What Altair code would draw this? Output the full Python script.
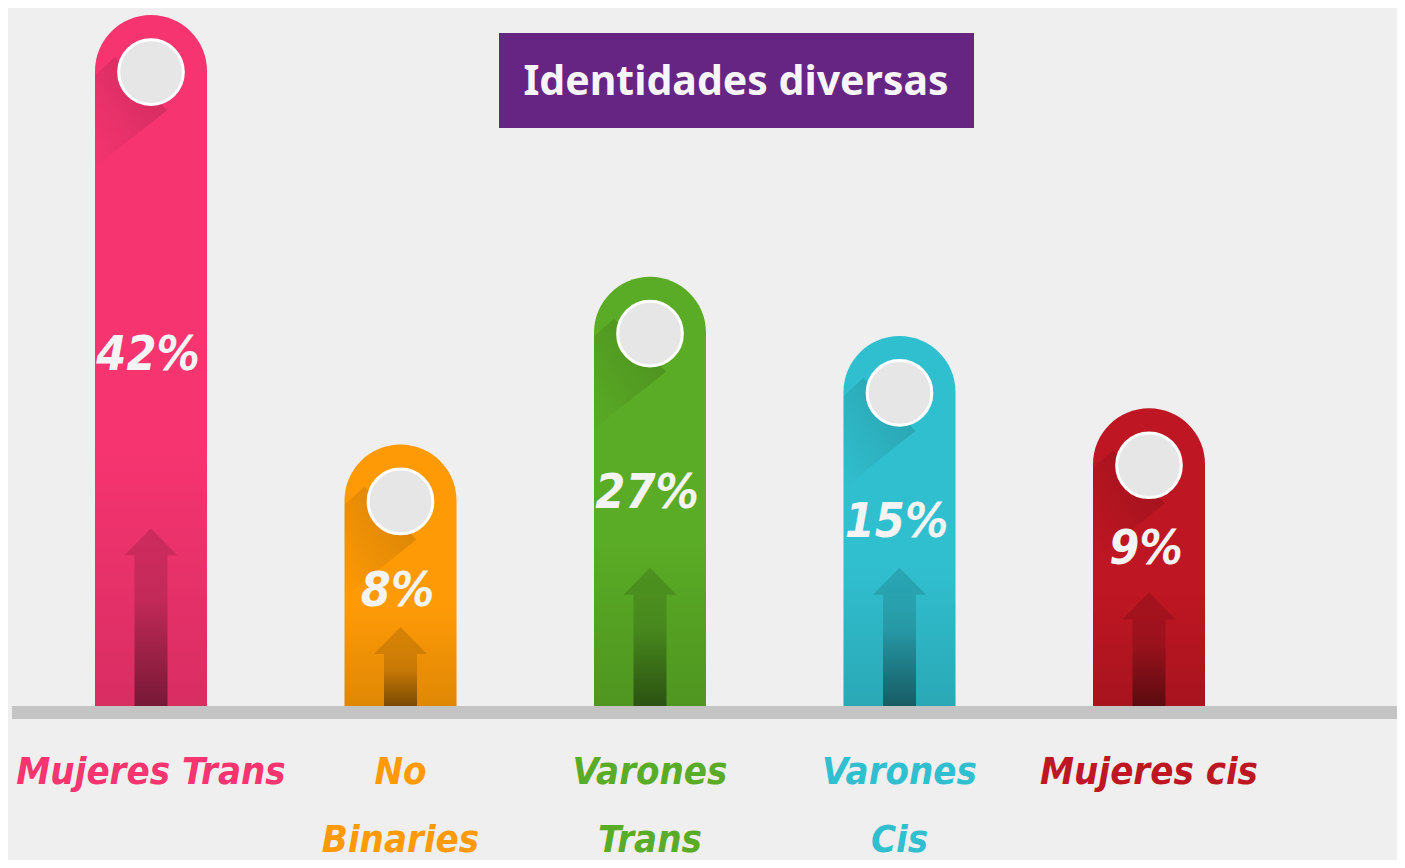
import altair as alt
import pandas as pd

# ---- data ----
categories = ["Mujeres Trans", "No Binaries", "Varones Trans", "Varones Cis", "Mujeres cis"]
display_names = ["Mujeres Trans", "No\nBinaries", "Varones\nTrans", "Varones\nCis", "Mujeres cis"]
percents = [42, 8, 27, 15, 9]
# visual bar heights / arrow tips / label positions (infographic is not to scale)
bar_levels = [42.0, 15.9, 26.1, 22.5, 18.1]
arrow_levels = [10.8, 4.8, 8.4, 8.4, 6.9]
label_levels = [21.3, 6.9, 12.9, 11.1, 9.5]
colors = ["#f63470", "#fe9a06", "#5aab25", "#30bfcf", "#be1622"]
title_text = ["Identidades diversas"]

df = pd.DataFrame({
    "cat": categories,
    "name": display_names,
    "pct": percents,
    "level": bar_levels,
    "arrow": arrow_levels,
    "lab": label_levels,
})

FONT = "'Liberation Sans Narrow', 'DejaVu Sans Condensed', 'Roboto Condensed', 'Open Sans Condensed', Roboto, sans-serif"

UNIT = 16.45  # pixels per level unit
xscale = alt.Scale(domain=categories, range=[87, 1197], paddingInner=0.5511, paddingOuter=0)
yscale = alt.Scale(domain=[-9.362, 42.432], range=[852, 0], nice=False, zero=False)
cscale = alt.Scale(domain=categories, range=colors)

X = alt.X("cat:N", scale=xscale, axis=None, sort=categories)

def grad(stops, x1=0, y1=0, x2=0, y2=1):
    return alt.Gradient(
        gradient="linear",
        stops=[alt.GradientStop(color=c, offset=o) for o, c in stops],
        x1=x1, y1=y1, x2=x2, y2=y2,
    )

base = alt.Chart(df)

# ground line
ground = alt.Chart(pd.DataFrame({"g": [0]})).mark_rect(color="#c4c4c4").encode(
    x=alt.value(4), x2=alt.value(1389),
    y=alt.Y(datum=0, scale=yscale, axis=None), y2=alt.datum(-13 / UNIT),
)

bars = base.mark_bar(cornerRadiusTopLeft=56, cornerRadiusTopRight=56).encode(
    x=X,
    y=alt.Y("level:Q", scale=yscale, axis=None),
    y2=alt.datum(0),
    color=alt.Color("cat:N", scale=cscale, legend=None),
)

bar_shade = base.mark_bar(
    cornerRadiusTopLeft=56, cornerRadiusTopRight=56,
    fill=grad([(0, "rgba(0,0,0,0)"), (0.62, "rgba(0,0,0,0)"), (1, "rgba(0,0,0,0.12)")]),
).encode(
    x=X,
    y=alt.Y("level:Q", scale=yscale, axis=None),
    y2=alt.datum(0),
)

shadow_path = "M-0.643,-0.268L-1,0.054L-1,1.7L0.286,0.679Z"
circle_shadow = base.mark_point(
    shape=shadow_path, size=12544, filled=True, strokeWidth=0, opacity=1, yOffset=57,
    fill=grad([(0, "rgba(0,0,0,0.17)"), (1, "rgba(0,0,0,0)")], x1=1, y1=0, x2=0, y2=1),
).encode(
    x=X,
    y=alt.Y("level:Q", scale=yscale, axis=None),
)

shaft = base.transform_calculate(
    shaft_top=f"datum.arrow - {27 / UNIT}"
).mark_bar(
    width=33,
    fill=grad([(0, "rgba(0,0,0,0.13)"), (0.3, "rgba(0,0,0,0.15)"), (1, "rgba(0,0,0,0.45)")]),
).encode(
    x=X,
    y=alt.Y("shaft_top:Q", scale=yscale, axis=None),
    y2=alt.datum(0),
)

head = base.mark_point(
    shape="M0,0L1,1.02L-1,1.02Z", size=2809, filled=True, fill="black",
    fillOpacity=0.13, strokeWidth=0, opacity=1,
).encode(
    x=X,
    y=alt.Y("arrow:Q", scale=yscale, axis=None),
)

circles = base.mark_point(
    shape="circle", size=4185, filled=True, fill="#e6e6e6", stroke="white",
    strokeWidth=3, opacity=1, yOffset=57,
).encode(
    x=X,
    y=alt.Y("level:Q", scale=yscale, axis=None),
)

pct_text = base.transform_calculate(
    ptxt="datum.pct + '%'"
).mark_text(
    font=FONT, fontWeight="bold", fontStyle="italic",
    fontSize=48, color="#f4f4f4", baseline="middle", align="center", dx=-3,
).encode(
    x=X,
    y=alt.Y("lab:Q", scale=yscale, axis=None),
    text="ptxt:N",
)

names = base.mark_text(
    font=FONT, fontWeight="bold", fontStyle="italic",
    fontSize=38, baseline="alphabetic", align="center", lineBreak="\n", lineHeight=68,
).encode(
    x=X,
    y=alt.Y(datum=-4.74, scale=yscale, axis=None),
    text="name:N",
    color=alt.Color("cat:N", scale=cscale, legend=None),
)

tdf = pd.DataFrame({"t": title_text})
title_box = alt.Chart(tdf).mark_rect(color="#662483").encode(
    x=alt.value(491), x2=alt.value(966), y=alt.value(25), y2=alt.value(120),
)
title = alt.Chart(tdf).mark_text(
    font="Noto Sans", fontWeight="bold", fontSize=41, color="#f7f5f8",
    baseline="middle", align="center",
).encode(
    x=alt.value(728), y=alt.value(75), text="t:N",
)

chart = alt.layer(
    ground, bars, bar_shade, circle_shadow, shaft, head, circles, pct_text, names,
    title_box, title,
).properties(
    width=1389, height=852,
    autosize=alt.AutoSizeParams(type="none"),
    padding=0,
    background="#efefef",
).configure_view(stroke=None)

chart.save("out.html", embed_options={"renderer": "svg", "actions": False})
